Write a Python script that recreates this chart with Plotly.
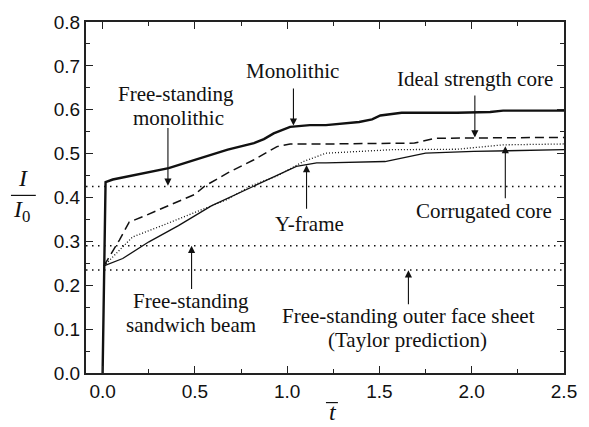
import plotly.graph_objects as go

# Normalised time and impulse ratio I/I0 for each configuration
t_monolithic = [0.0, 0.016, 0.055, 0.233, 0.358, 0.50, 0.678, 0.82, 0.874, 0.927,
                1.016, 1.123, 1.21, 1.39, 1.46, 1.505, 1.62, 1.92, 2.10, 2.17, 2.5]
i_monolithic = [0.0, 0.435, 0.441, 0.456, 0.467, 0.486, 0.509, 0.524, 0.533, 0.546,
                0.561, 0.565, 0.565, 0.572, 0.578, 0.587, 0.593, 0.593, 0.595, 0.598, 0.598]

t_ideal = [0.007, 0.091, 0.144, 0.233, 0.376, 0.50, 0.553, 0.678, 0.82, 0.945,
           1.016, 1.21, 1.69, 1.80, 2.5]
i_ideal = [0.244, 0.303, 0.344, 0.359, 0.385, 0.407, 0.426, 0.456, 0.486, 0.516,
           0.522, 0.522, 0.524, 0.535, 0.537]

t_corrugated = [0.007, 0.073, 0.162, 0.322, 0.50, 0.678, 0.80, 0.945, 1.088, 1.21,
                1.57, 1.92, 2.17, 2.5]
i_corrugated = [0.244, 0.273, 0.310, 0.336, 0.366, 0.396, 0.426, 0.449, 0.482, 0.501,
                0.509, 0.510, 0.520, 0.522]

t_yframe = [0.007, 0.109, 0.251, 0.411, 0.589, 0.838, 0.945, 1.05, 1.16, 1.21,
            1.53, 1.75, 2.01, 2.5]
i_yframe = [0.244, 0.261, 0.299, 0.336, 0.381, 0.43, 0.452, 0.471, 0.479, 0.479,
            0.482, 0.501, 0.505, 0.509]

# Free-standing reference levels: monolithic, sandwich beam, outer face sheet
ref_levels = [0.425, 0.29, 0.235]

# Text labels: (text, t, I/I0)
labels = [
    ("Monolithic", 1.028, 0.689),
    ("Free-standing", 0.400, 0.636),
    ("monolithic", 0.411, 0.582),
    ("Ideal strength core", 2.018, 0.671),
    ("Corrugated core", 2.066, 0.369),
    ("Y-frame", 1.119, 0.339),
    ("Free-standing", 0.478, 0.164),
    ("sandwich beam", 0.478, 0.110),
    ("Free-standing outer face sheet", 1.655, 0.131),
    ("(Taylor prediction)", 1.652, 0.076),
]

# Pointer arrows: (t, tail I/I0, head I/I0)
arrows = [
    (1.034, 0.652, 0.564),
    (0.354, 0.562, 0.427),
    (2.017, 0.636, 0.537),
    (2.182, 0.395, 0.517),
    (1.105, 0.371, 0.474),
    (0.482, 0.188, 0.290),
    (1.657, 0.153, 0.234),
]

INK = "#111111"
SERIF = "Liberation Serif, Times New Roman, serif"
SANS = "Liberation Sans, Arial, sans-serif"

fig = go.Figure()

fig.add_trace(go.Scatter(x=t_yframe, y=i_yframe, mode="lines",
                         line=dict(color=INK, width=1.3)))
fig.add_trace(go.Scatter(x=t_corrugated, y=i_corrugated, mode="lines",
                         line=dict(color=INK, width=1.3, dash="1px,2px")))
fig.add_trace(go.Scatter(x=t_ideal, y=i_ideal, mode="lines",
                         line=dict(color=INK, width=1.5, dash="9px,5px")))
fig.add_trace(go.Scatter(x=t_monolithic, y=i_monolithic, mode="lines",
                         line=dict(color=INK, width=2.4)))

shapes = []
for lvl in ref_levels:
    shapes.append(dict(type="line", xref="x domain", yref="y", x0=0, x1=1,
                       y0=lvl, y1=lvl, line=dict(color=INK, width=1.5, dash="1.5px,4.5px")))

# Fraction bar for the y-axis title and overbar on the x-axis title
shapes.append(dict(type="line", xref="paper", yref="paper", x0=-0.157, x1=-0.105,
                   y0=0.506, y1=0.506, line=dict(color=INK, width=1.2)))
shapes.append(dict(type="line", xref="paper", yref="paper", x0=0.502, x1=0.527,
                   y0=-0.0843, y1=-0.0843, line=dict(color=INK, width=1.2)))

annotations = []
for text, tx, ty in labels:
    annotations.append(dict(x=tx, y=ty, xref="x", yref="y", text=text, showarrow=False,
                            xanchor="center", yanchor="middle",
                            font=dict(family=SERIF, size=21, color=INK)))
for tx, tail, head in arrows:
    annotations.append(dict(x=tx, y=head, ax=tx, ay=tail, xref="x", yref="y",
                            axref="x", ayref="y", text="", showarrow=True,
                            arrowhead=2, arrowsize=1.3, arrowwidth=1.1,
                            arrowcolor=INK, standoff=0, startstandoff=0))

annotations.append(dict(x=-0.132, y=0.556, xref="paper", yref="paper",
                        text="<i>I</i>", showarrow=False, xanchor="center", yanchor="middle",
                        font=dict(family=SERIF, size=24, color=INK)))
annotations.append(dict(x=-0.134, y=0.461, xref="paper", yref="paper",
                        text="<i>I</i><sub>0</sub>", showarrow=False,
                        xanchor="center", yanchor="middle",
                        font=dict(family=SERIF, size=24, color=INK)))
annotations.append(dict(x=0.516, y=-0.112, xref="paper", yref="paper",
                        text="<i>t</i>", showarrow=False, xanchor="center", yanchor="middle",
                        font=dict(family=SERIF, size=24, color=INK)))

axis_common = dict(
    showgrid=False, zeroline=False, showline=True, linecolor="#222222", linewidth=2,
    mirror="ticks", ticks="inside", ticklen=7, tickwidth=1.3, tickcolor="#222222",
    tickfont=dict(family=SANS, size=19, color=INK), tickformat=".1f",
)

fig.update_layout(
    width=589, height=427,
    margin=dict(l=86, r=18, t=17, b=54),
    plot_bgcolor="white", paper_bgcolor="white",
    showlegend=False,
    shapes=shapes,
    annotations=annotations,
    xaxis=dict(range=[-0.09, 2.5], tick0=0, dtick=0.5,
               minor=dict(dtick=0.25, ticks="inside", ticklen=4, tickcolor="#222222"),
               **axis_common),
    yaxis=dict(range=[0, 0.8], tick0=0, dtick=0.1,
               minor=dict(dtick=0.05, ticks="inside", ticklen=4, tickcolor="#222222"),
               **axis_common),
)

fig.write_html("out.html")
